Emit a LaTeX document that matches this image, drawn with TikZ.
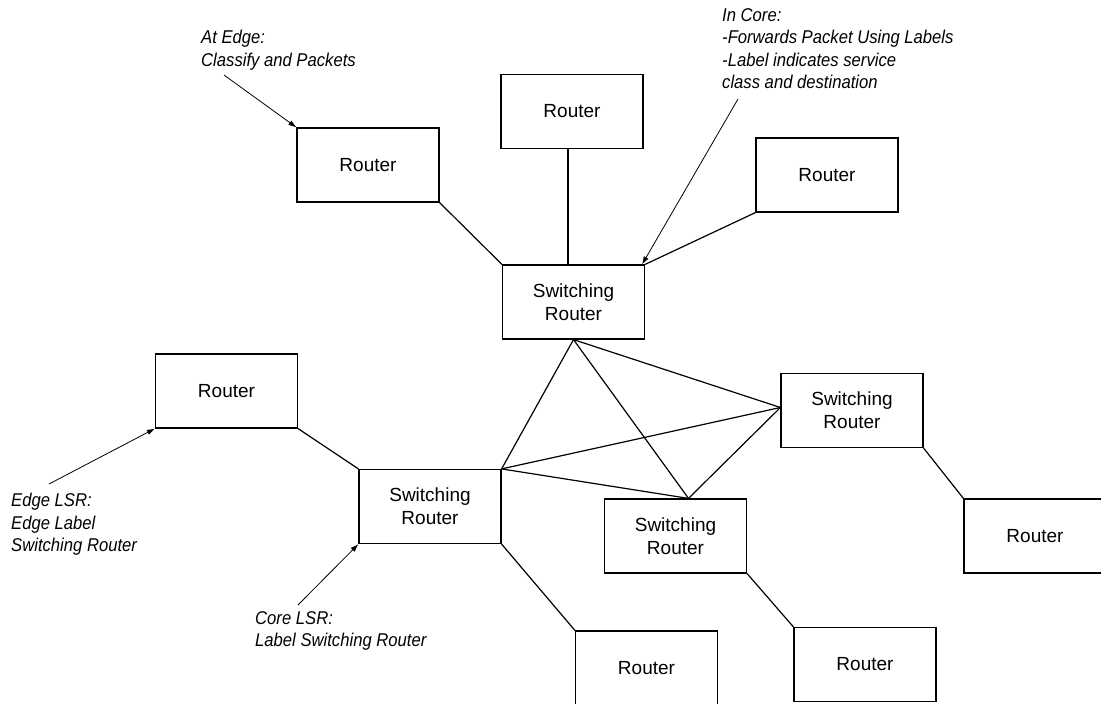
\documentclass[tikz,border=0pt]{standalone}
\usepackage{fontspec}
\setmainfont{Liberation Sans}
\newfontfamily\notefont[FakeStretch=0.9]{Liberation Sans}
\usetikzlibrary{arrows.meta}
\begin{document}
\begin{tikzpicture}[x=1pt,y=-1pt,
  box/.style={draw, line width=1.2pt, minimum width=142pt, minimum height=74pt,
    inner sep=0pt, align=center, font=\fontsize{19}{23}\selectfont},
  link/.style={line width=1.2pt},
  note/.style={anchor=north west, inner sep=0pt, align=left,
    font=\notefont\itshape\fontsize{18.5}{22.5}\selectfont},
  pointer/.style={line width=0.8pt, -{Latex[length=8pt,width=5.5pt]}}]
\useasboundingbox (0,0) rectangle (1101,704);

% boxes
\node[box] (rtl) at (368,165) {Router};
\node[box] (rtc) at (572,111.5) {Router};
\node[box] (rtr) at (827,175) {Router};
\node[box] (src) at (573.5,302) {Switching\\Router};
\node[box] (rl)  at (226.5,391) {Router};
\node[box] (srl) at (430,506.5) {Switching\\Router};
\node[box] (srb) at (675.5,536) {Switching\\Router};
\node[box] (srr) at (852,410.5) {Switching\\Router};
\node[box] (rfr) at (1035,536) {Router};
\node[box] (rbc) at (646.5,668) {Router};
\node[box] (rbr) at (865,664.5) {Router};

% notes
\node[note] (nedge) at (201,30) {At Edge:\\Classify and Packets};
\node[note] (ncore) at (722,8) {In Core:\\-Forwards Packet Using Labels\\-Label indicates service\\class and destination};
\node[note] (nelsr) at (11,493) {Edge LSR:\\Edge Label\\Switching Router};
\node[note] (nclsr) at (255,611) {Core LSR:\\Label Switching Router};

% pointer start points
\coordinate (p1) at (224,75);
\coordinate (p2) at (738,99);
\coordinate (p3) at (49,484);
\coordinate (p4) at (298,605);

\draw[pointer] (p1) -- (rtl.north west);
\draw[pointer] (p2) -- ([xshift=-3pt]src.north east);
\draw[pointer] (p3) -- (rl.south west);
\draw[pointer] (p4) -- (srl.south west);

% links to routers
\draw[link] (rtl.south east) -- (src.north west);
\coordinate (vt) at ([xshift=-4pt]rtc.south);
\draw[link] (vt) -- (vt |- src.north);
\draw[link] (rtr.south west) -- (src.north east);
\draw[link] (rl.south east) -- (srl.north west);
\draw[link] (srl.south east) -- (rbc.north west);
\draw[link] (srb.south east) -- (rbr.north west);
\draw[link] (srr.south east) -- (rfr.north west);

% core mesh
\coordinate (sw) at ([yshift=3pt]srr.west);
\coordinate (sbt) at ([xshift=13pt]srb.north);
\draw[link] (src.south) -- (srl.north east);
\draw[link] (src.south) -- (sbt);
\draw[link] (src.south) -- (sw);
\draw[link] (srl.north east) -- (sw);
\draw[link] (srl.north east) -- (sbt);
\draw[link] (sbt) -- (sw);
\end{tikzpicture}
\end{document}
